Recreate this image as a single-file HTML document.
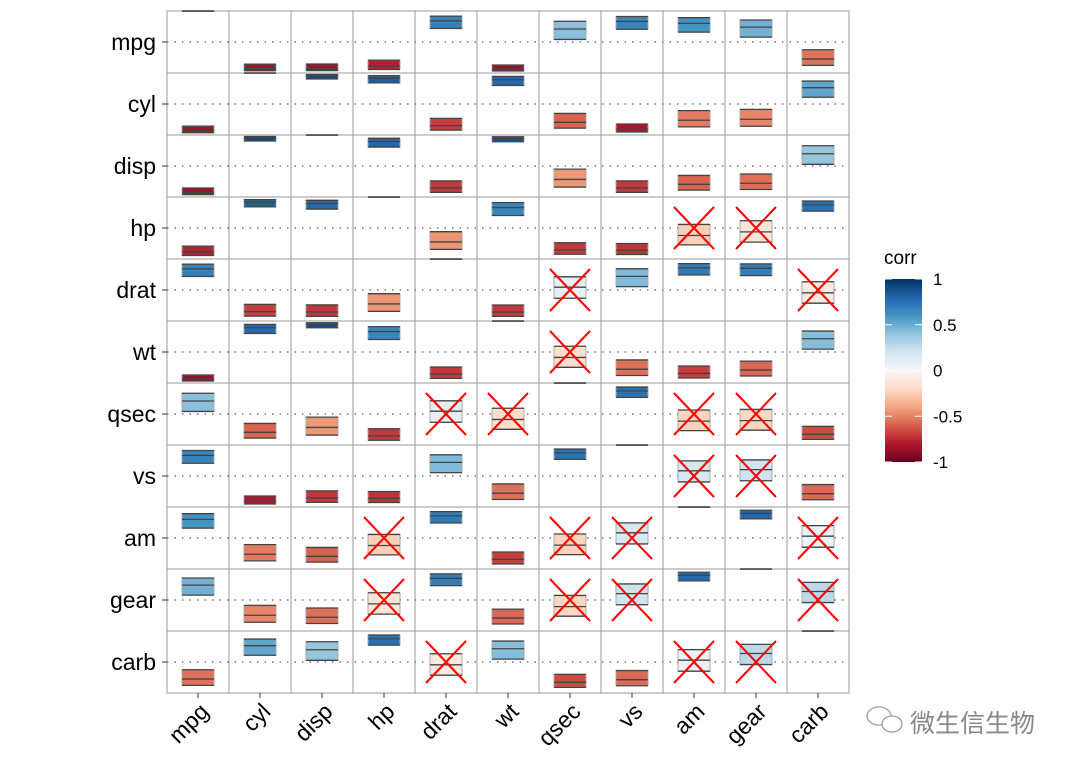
<!DOCTYPE html>
<html><head><meta charset="utf-8">
<style>
html,body{margin:0;padding:0;background:#fff;}
svg text{font-family:"Liberation Sans","Noto Sans CJK SC",sans-serif;}
</style></head>
<body>
<svg id="chart" width="1080" height="771" xmlns="http://www.w3.org/2000/svg">
<defs>
<linearGradient id="cbar" x1="0" y1="1" x2="0" y2="0">
<stop offset="0" stop-color="#67001f"/><stop offset="0.1" stop-color="#b2182b"/><stop offset="0.2" stop-color="#d6604d"/><stop offset="0.3" stop-color="#f4a582"/><stop offset="0.4" stop-color="#fddbc7"/><stop offset="0.5" stop-color="#f7f7f7"/><stop offset="0.6" stop-color="#d1e5f0"/><stop offset="0.7" stop-color="#92c5de"/><stop offset="0.8" stop-color="#4393c3"/><stop offset="0.9" stop-color="#2166ac"/><stop offset="1" stop-color="#053061"/>
</linearGradient>
</defs>
<g id="panel"></g>
<g id="legend">
<text x="884" y="264" font-size="19" fill="#000">corr</text>
<rect x="885" y="279" width="37" height="183" fill="url(#cbar)"/>
</g>
<g>
<ellipse cx="879" cy="716" rx="12" ry="9" fill="none" stroke="#aaa" stroke-width="1.5"/>
<ellipse cx="892" cy="724" rx="10" ry="8" fill="#fff" stroke="#aaa" stroke-width="1.5"/>
<text x="910" y="732" font-size="25" fill="#888">微生信生物</text>
</g>
</svg>
<script>
const vars = ["mpg","cyl","disp","hp","drat","wt","qsec","vs","am","gear","carb"];
// upper triangle correlations, row by row
const corrUpper = [
 [-0.852,-0.848,-0.776,0.681,-0.868,0.419,0.664,0.600,0.480,-0.551],
 [0.902,0.832,-0.700,0.782,-0.591,-0.811,-0.523,-0.493,0.527],
 [0.791,-0.710,0.888,-0.434,-0.710,-0.591,-0.556,0.395],
 [-0.449,0.659,-0.708,-0.723,-0.243,-0.126,0.750],
 [-0.712,0.091,0.440,0.713,0.700,-0.091],
 [-0.175,-0.555,-0.692,-0.583,0.428],
 [0.745,-0.230,-0.213,-0.656],
 [0.168,0.206,-0.570],
 [0.794,0.058],
 [0.274]
];
const legendTicks = [1,0.5,0,-0.5,-1];
const nObs = 32;

const NS="http://www.w3.org/2000/svg";
const svg=document.getElementById('chart');
const panel=document.getElementById('panel');
const x0=167,y0=11,cs=62,half=31;
function mk(tag,attrs,parent){const e=document.createElementNS(NS,tag);for(const k in attrs)e.setAttribute(k,attrs[k]);(parent||panel).appendChild(e);return e;}
const pal=[[103,0,31],[178,24,43],[214,96,77],[244,165,130],[253,219,199],[247,247,247],[209,229,240],[146,197,222],[67,147,195],[33,102,172],[5,48,97]];
function color(r){const t=(r+1)/2*10;const i=Math.min(9,Math.floor(t));const f=t-i;const a=pal[i],b=pal[i+1];return `rgb(${a.map((v,k)=>Math.round(v+(b[k]-v)*f)).join(',')})`;}
function corr(i,j){if(i===j)return 1;const a=Math.min(i,j),b=Math.max(i,j);return corrUpper[a][b-a-1];}
const cx=j=>x0+j*cs+half, cy=i=>y0+i*cs+half;
const yv=(i,r)=>cy(i)-r*half;
const n=vars.length;
const bg=mk('rect',{x:x0,y:y0,width:cs*n,height:cs*n,fill:'#fff',stroke:'#999','stroke-width':1});


for(let k=1;k<n;k++){
 const v=mk('line',{x1:x0+k*cs,y1:y0,x2:x0+k*cs,y2:y0+n*cs,stroke:'#999','stroke-width':1});
 
 
 const h=mk('line',{x1:x0,y1:y0+k*cs,x2:x0+n*cs,y2:y0+k*cs,stroke:'#999','stroke-width':1});
 
 
}
for(let i=0;i<n;i++){
 const d=mk('line',{x1:x0,y1:cy(i),x2:x0+n*cs,y2:cy(i),stroke:'#777','stroke-width':1.5,'stroke-dasharray':'1.5 6'});
 
 
 const yt=mk('line',{x1:162,y1:cy(i),x2:167,y2:cy(i),stroke:'#333'});
 
 
 const yl=mk('text',{x:156,y:cy(i)+8,'font-size':23,'text-anchor':'end',fill:'#000'},svg);
 yl.textContent=vars[i];
 
 
 const xt=mk('line',{x1:cx(i),y1:693,x2:cx(i),y2:698,stroke:'#333'});
 
 
 const tx=cx(i)+12,ty=713;
 const xl=mk('text',{x:tx,y:ty,'font-size':23,'text-anchor':'end',fill:'#000',transform:`rotate(-45 ${tx} ${ty})`},svg);
 xl.textContent=vars[i];
 
 
}
const se=1/Math.sqrt(nObs-3);
for(let i=0;i<n;i++)for(let j=0;j<n;j++){
 const r=corr(i,j);
 const z=Math.atanh(Math.min(r,0.999999));
 const lo=i===j?1:Math.tanh(z-1.96*se), hi=i===j?1:Math.tanh(z+1.96*se);
 const g=mk('g',{});
 
 
 const yt=yv(i,hi),yb=yv(i,lo),ym=yv(i,r);
 const rc=mk('rect',{x:cx(j)-16,y:yt,width:32,height:Math.max(0.5,yb-yt),fill:color(r),stroke:'#aaa','stroke-width':1},g);
 
 
 for(const yy of [yt,ym,yb]){
  const l=mk('line',{x1:cx(j)-16,y1:yy,x2:cx(j)+16,y2:yy,stroke:'#444','stroke-width':1.3},g);
  
  
 }
 if(i!==j && lo<0 && hi>0){
  const c=mk('path',{d:`M${cx(j)-20},${cy(i)-21}L${cx(j)+20},${cy(i)+21}M${cx(j)+20},${cy(i)-21}L${cx(j)-20},${cy(i)+21}`,stroke:'#f00','stroke-width':2,fill:'none'},g);
  
  
 }
}
const leg=document.getElementById('legend');
legendTicks.forEach(v=>{
 const y=462-(v+1)/2*183;
 const t1=mk('line',{x1:885,y1:y,x2:892,y2:y,stroke:'#fff','stroke-width':1},leg);
 
 
 const t2=mk('line',{x1:915,y1:y,x2:922,y2:y,stroke:'#fff','stroke-width':1},leg);
 
 
 const tl=mk('text',{x:933,y:y+6,'font-size':17,fill:'#000'},leg);
 tl.textContent=String(v);
 
 
});
</script>
</body></html>
